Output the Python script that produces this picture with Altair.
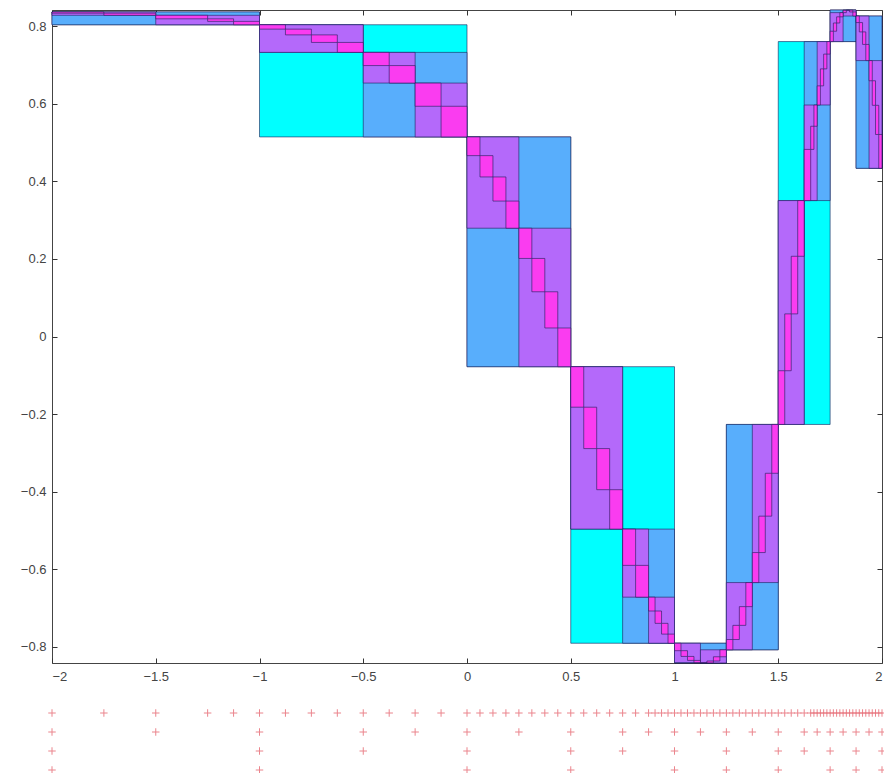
import altair as alt
import pandas as pd

# subdivision points of each refinement stage (read from the "+" rows, coarsest first)
level1 = [-2, -1, 0, 0.5, 1, 1.25, 1.5, 1.75, 1.875, 2]
level2 = [-2, -1, -0.5, 0, 0.5, 0.75, 1, 1.25, 1.5, 1.625, 1.75, 1.875, 2]
level3 = [-2, -1.5, -1, -0.5, -0.25, 0, 0.25, 0.5, 0.75, 0.875, 1, 1.125, 1.25, 1.375,
          1.5, 1.625, 1.6875, 1.75, 1.8125, 1.875, 1.9375, 2]
level4 = [-2, -1.75, -1.5, -1.25, -1.125, -1, -0.875, -0.75, -0.625, -0.5, -0.375, -0.25,
          -0.125, 0, 0.0625, 0.125, 0.1875, 0.25, 0.3125, 0.375, 0.4375, 0.5, 0.5625, 0.625,
          0.6875, 0.75, 0.8125, 0.875, 0.90625, 0.9375, 0.96875, 1, 1.03125, 1.0625, 1.09375,
          1.125, 1.15625, 1.1875, 1.21875, 1.25, 1.28125, 1.3125, 1.34375, 1.375, 1.40625,
          1.4375, 1.46875, 1.5, 1.53125, 1.5625, 1.59375, 1.625, 1.65625, 1.671875, 1.6875,
          1.703125, 1.71875, 1.734375, 1.75, 1.765625, 1.78125, 1.796875, 1.8125, 1.828125,
          1.84375, 1.859375, 1.875, 1.890625, 1.90625, 1.921875, 1.9375, 1.953125, 1.96875,
          1.984375, 2]

# curve values at the subdivision points (plus the two turning points)
curve_x = [-2, -1.75, -1.5, -1.25, -1.125, -1, -0.875, -0.75, -0.625, -0.5, -0.375, -0.25,
           -0.125, 0, 0.0625, 0.125, 0.1875, 0.25, 0.3125, 0.375, 0.4375, 0.5, 0.5625, 0.625,
           0.6875, 0.75, 0.8125, 0.875, 0.90625, 0.9375, 0.96875, 1, 1.03125, 1.0625, 1.09375,
           1.125, 1.1447299, 1.15625, 1.1875, 1.21875, 1.25, 1.28125, 1.3125, 1.34375, 1.375,
           1.40625, 1.4375, 1.46875, 1.5, 1.53125, 1.5625, 1.59375, 1.625, 1.65625, 1.671875,
           1.6875, 1.703125, 1.71875, 1.734375, 1.75, 1.765625, 1.78125, 1.796875, 1.8125,
           1.828125, 1.8378771, 1.84375, 1.859375, 1.875, 1.890625, 1.90625, 1.921875, 1.9375,
           1.953125, 1.96875, 1.984375, 2]
curve_y = [0.83650, 0.83324, 0.82782, 0.81875, 0.81211, 0.80346, 0.79217, 0.77738, 0.75793,
           0.73226, 0.69826, 0.65316, 0.59336, 0.51440, 0.46616, 0.41124, 0.34904, 0.27910,
           0.20117, 0.11529, 0.02196, -0.07777, -0.18219, -0.28890, -0.39483, -0.49640,
           -0.58989, -0.67180, -0.70750, -0.73931, -0.76705, -0.79057, -0.80976, -0.82455,
           -0.83484, -0.84045, -0.84147, -0.84111, -0.83635, -0.82546, -0.80744, -0.78099,
           -0.74452, -0.69621, -0.63420, -0.55683, -0.46301, -0.35255, -0.22667, -0.08821,
           0.05828, 0.20675, 0.35032, 0.48218, 0.54187, 0.59662, 0.64601, 0.68979, 0.72783,
           0.76014, 0.78681, 0.80801, 0.82393, 0.83472, 0.84047, 0.84147, 0.84110, 0.83641,
           0.82596, 0.80912, 0.78505, 0.75275, 0.71113, 0.65912, 0.59582, 0.52063, 0.43348]

level_colors = ["#00FFFF", "#58AEFC", "#B469FA", "#FA3CF0"]
xticks = [-2, -1.5, -1, -0.5, 0, 0.5, 1, 1.5, 2]
yticks = [-0.8, -0.6, -0.4, -0.2, 0, 0.2, 0.4, 0.6, 0.8]

levels = [level1, level2, level3, level4]
rows = []
for lv, bps in enumerate(levels, start=1):
    for a, b in zip(bps[:-1], bps[1:]):
        vals = [yv for xv, yv in zip(curve_x, curve_y) if a - 1e-9 <= xv <= b + 1e-9]
        rows.append(dict(level=lv, x0=a, x1=b, y0=min(vals), y1=max(vals)))
box_df = pd.DataFrame(rows)

plus_df = pd.DataFrame([dict(level=lv, x=v) for lv, bps in enumerate(levels, start=1) for v in bps])

W, H = 830, 653
xs = alt.Scale(domain=[-2, 2], nice=False, zero=False)
ys = alt.Scale(domain=[-0.8415, 0.8415], nice=False, zero=False)
ax_common = dict(domain=False, grid=False, title=None, tickSize=5, offset=-5,
                 tickColor="#333333", labelColor="#444444", labelFont="Liberation Sans",
                 labelFontSize=13, format="~g")

boxes = alt.Chart(box_df).mark_rect(stroke="#1c1c5a", strokeWidth=0.6).encode(
    x=alt.X("x0:Q", scale=xs, axis=alt.Axis(values=xticks, orient="bottom", labelPadding=7, **ax_common)),
    x2="x1:Q",
    y=alt.Y("y0:Q", scale=ys, axis=alt.Axis(values=yticks, orient="left", labelPadding=6, **ax_common)),
    y2="y1:Q",
    color=alt.Color("level:O", scale=alt.Scale(domain=[1, 2, 3, 4], range=level_colors), legend=None),
)

frame = alt.Chart(pd.DataFrame({"x": [0], "y": [0]})).mark_point(opacity=0).encode(
    x=alt.X("x:Q", scale=xs, axis=alt.Axis(values=xticks, orient="top", labels=False, **ax_common)),
    y=alt.Y("y:Q", scale=ys, axis=alt.Axis(values=yticks, orient="right", labels=False, **ax_common)),
)

pluses = alt.Chart(plus_df).mark_point(
    shape="M-1,0L1,0M0,-1L0,1", size=56, stroke="#e8707a", strokeWidth=1, opacity=0.85, filled=False
).encode(
    x=alt.X("x:Q", scale=xs, axis=None),
    y=alt.Y("level:Q", scale=alt.Scale(domain=[1, 4], range=[H + 107, H + 50]), axis=None),
)

chart = alt.layer(boxes, frame, pluses).resolve_axis(x="independent", y="independent").resolve_scale(
    y="independent"
).properties(
    width=W, height=H, padding={"left": 44, "top": 2, "right": 2, "bottom": 110},
    autosize=alt.AutoSizeParams(type="none"),
).configure_view(stroke="#444444", strokeWidth=1)

chart.save("out.html", embed_options={"renderer": "svg", "actions": False})
